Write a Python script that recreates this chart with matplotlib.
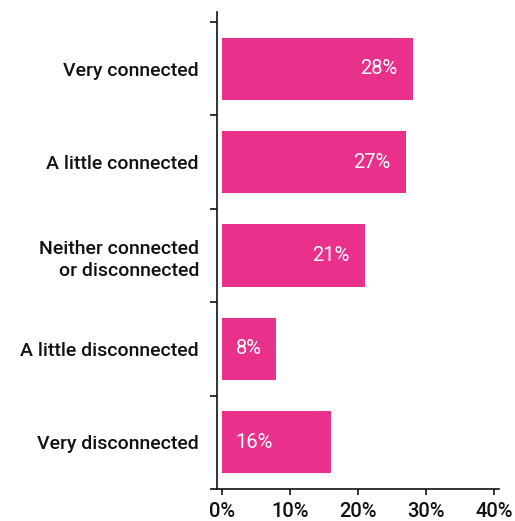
import matplotlib.pyplot as plt
from matplotlib.ticker import FixedLocator, FuncFormatter

plt.rcParams['font.family'] = ['Roboto', 'DejaVu Sans']

categories = ['Very connected', 'A little connected', 'Neither connected\nor disconnected',
              'A little disconnected', 'Very disconnected']
values = [28, 27, 21, 8, 16]
xticks = [0, 10, 20, 30, 40]

pink = '#E9318B'
ink = '#111111'

fig = plt.figure(figsize=(5.15, 5.21), dpi=100)
ax = fig.add_axes([0.4214, 0.0614, 0.5476, 0.9155])

ypos = list(range(len(categories)))
ax.barh(ypos, values, height=0.665, color=pink, zorder=2)

# value labels inside the bars
for y, v in zip(ypos, values):
    if v >= 20:
        ax.text(v - 2.3, y, f'{v}%', ha='right', va='center', color='white', fontsize=14.5)
    else:
        ax.text(2.0, y, f'{v}%', ha='left', va='center', color='white', fontsize=14.5)

ax.set_xlim(-0.74, 40.7)
ax.set_ylim(4.5, -0.607)

ax.set_yticks(ypos)
ax.set_yticklabels(categories, fontsize=14, color=ink, linespacing=1.35, fontweight='medium')
ax.yaxis.set_minor_locator(FixedLocator([i - 0.5 for i in range(len(categories) + 1)]))
ax.tick_params(axis='y', which='major', length=0, pad=13)
ax.tick_params(axis='y', which='minor', length=5, width=1.2, color=ink)

ax.set_xticks(xticks)
ax.xaxis.set_major_formatter(FuncFormatter(lambda x, p: f'{x:.0f}%'))
ax.tick_params(axis='x', length=4.5, width=1.2, color=ink, labelsize=14.5, labelcolor=ink, pad=5)
for lbl in ax.get_xticklabels():
    lbl.set_fontweight('medium')

for s in ['top', 'right']:
    ax.spines[s].set_visible(False)
for s in ['left', 'bottom']:
    ax.spines[s].set_linewidth(1.2)
    ax.spines[s].set_color(ink)

fig.savefig('out.png', dpi=100)
